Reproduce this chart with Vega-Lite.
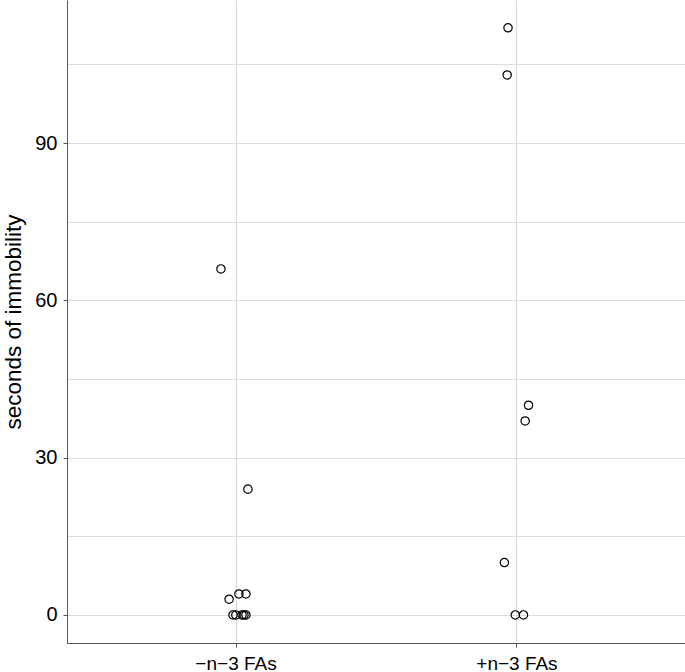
{
  "$schema": "https://vega.github.io/schema/vega-lite/v6.json",
  "autosize": "none",
  "width": 618,
  "height": 643,
  "padding": {"left": 67, "top": 0, "right": 0, "bottom": 29},
  "background": "white",
  "config": {
    "view": {"stroke": null},
    "font": "Liberation Sans"
  },
  "data": {
    "values": [
      {"group": "−n−3 FAs", "jitter": -0.052, "seconds": 66},
      {"group": "−n−3 FAs", "jitter": 0.044, "seconds": 24},
      {"group": "−n−3 FAs", "jitter": -0.023, "seconds": 3},
      {"group": "−n−3 FAs", "jitter": 0.012, "seconds": 4},
      {"group": "−n−3 FAs", "jitter": 0.037, "seconds": 4},
      {"group": "−n−3 FAs", "jitter": -0.009, "seconds": 0},
      {"group": "−n−3 FAs", "jitter": 0.001, "seconds": 0},
      {"group": "−n−3 FAs", "jitter": 0.023, "seconds": 0},
      {"group": "−n−3 FAs", "jitter": 0.030, "seconds": 0},
      {"group": "−n−3 FAs", "jitter": 0.037, "seconds": 0},
      {"group": "+n−3 FAs", "jitter": -0.030, "seconds": 112},
      {"group": "+n−3 FAs", "jitter": -0.033, "seconds": 103},
      {"group": "+n−3 FAs", "jitter": 0.043, "seconds": 40},
      {"group": "+n−3 FAs", "jitter": 0.031, "seconds": 37},
      {"group": "+n−3 FAs", "jitter": -0.043, "seconds": 10},
      {"group": "+n−3 FAs", "jitter": -0.004, "seconds": 0},
      {"group": "+n−3 FAs", "jitter": 0.025, "seconds": 0}
    ]
  },
  "mark": {"type": "point", "shape": "circle", "filled": false, "stroke": "black", "strokeWidth": 1.2, "size": 70, "opacity": 1},
  "encoding": {
    "x": {
      "field": "group",
      "type": "nominal",
      "sort": ["−n−3 FAs", "+n−3 FAs"],
      "scale": {"type": "point", "padding": 0.6},
      "axis": {
        "title": null,
        "labelAngle": 0,
        "labelFontSize": 19,
        "labelColor": "black",
        "labelPadding": 7,
        "tickSize": 4,
        "tickColor": "#555",
        "domainColor": "#555",
        "grid": true,
        "gridColor": "#dcdcdc",
        "gridWidth": 1.2
      }
    },
    "xOffset": {
      "field": "jitter",
      "type": "quantitative",
      "scale": {"domain": [-0.5, 0.5], "range": [-140.5, 140.5]}
    },
    "y": {
      "field": "seconds",
      "type": "quantitative",
      "scale": {"domain": [-5.35, 117.3], "nice": false, "zero": false},
      "axis": {
        "title": "seconds of immobility",
        "titleFontSize": 22.5,
        "titleFontWeight": "normal",
        "titleColor": "black",
        "titlePadding": 9,
        "values": [0, 15, 30, 45, 60, 75, 90, 105],
        "labelExpr": "datum.value % 30 === 0 ? datum.label : ''",
        "labelFontSize": 20,
        "labelColor": "black",
        "labelPadding": 6,
        "tickSize": 4,
        "tickColor": "#555",
        "tickOpacity": {"condition": {"test": "datum.value % 30 === 0", "value": 1}, "value": 0},
        "domainColor": "#555",
        "grid": true,
        "gridColor": "#dcdcdc",
        "gridWidth": 1.2
      }
    }
  }
}
